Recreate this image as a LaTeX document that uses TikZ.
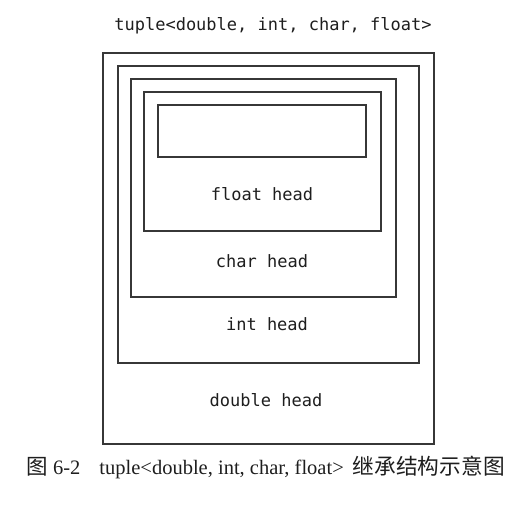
\documentclass[tikz,border=0pt]{standalone}
\usepackage{fontspec}
\setmainfont{Liberation Serif}
\setmonofont{DejaVu Sans Mono}
\newfontfamily\cjk{Noto Sans CJK SC}
\usepackage{tikz}
\definecolor{traitGris}{RGB}{55,55,55}
\definecolor{texteGris}{RGB}{30,30,30}
\tikzset{
  cadre/.style={draw=traitGris, line width=1.3pt},
  etiq/.style={font=\fontsize{17}{20}\selectfont\ttfamily, text=texteGris}
}

\begin{document}
\begin{tikzpicture}[x=1pt, y=-1pt]
\useasboundingbox[fill=white] (0,0) rectangle (532,513);

\node[etiq] (titre) at (273,26) {tuple<double, int, char, float>};

\draw[cadre] (103,53) rectangle (434,444);
\draw[cadre] (118,66) rectangle (419,363);
\draw[cadre] (131,79) rectangle (396,297);
\draw[cadre] (144,92) rectangle (381,231);
\draw[cadre] (158,105) rectangle (366,157);

\node[etiq] (floatHead) at (262,194) {float head};
\node[etiq] (charHead) at (262,261) {char head};
\node[etiq] (intHead) at (267,324) {int head};
\node[etiq] (doubleHead) at (266,400) {double head};

\node[font=\fontsize{20.5}{24}\selectfont, text=texteGris, anchor=west] (legende) at (23,467)
  {{\cjk\fontsize{21.5}{24}\selectfont 图} 6-2\hspace{19pt}tuple<double, int, char, float>\hspace{9pt}{\cjk\fontsize{21.7}{24}\selectfont 继承结构示意图}};

\end{tikzpicture}
\end{document}
